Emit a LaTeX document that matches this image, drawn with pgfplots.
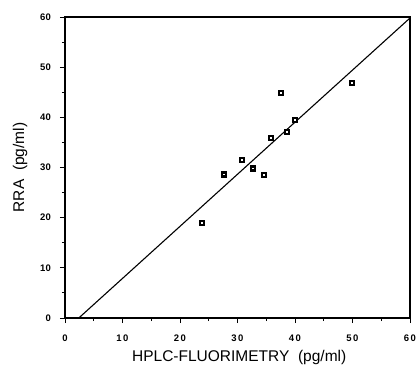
\documentclass[border=0pt]{standalone}
\usepackage{pgfplots}
\pgfplotsset{compat=1.18}
\usepackage{fontspec}
\setmainfont{Liberation Sans}
\begin{document}
\begin{tikzpicture}
\begin{axis}[
  name=ax,
  scale only axis, width=345pt, height=301pt,
  xmin=0, xmax=60, ymin=0, ymax=60,
  xtick={0,10,...,60}, ytick={0,10,...,60},
  minor tick num=1,
  tick align=outside, tick pos=left,
  major tick length=5pt, minor tick length=3pt,
  axis line style={line width=1.4pt},
  every tick/.style={black, line width=1pt},
  ticklabel style={font=\fontsize{9.5}{11}\selectfont\bfseries, inner sep=0pt},
  xticklabels={0,1\hspace{1.5pt}0,2\hspace{1.5pt}0,3\hspace{1.5pt}0,4\hspace{1.5pt}0,5\hspace{1.5pt}0,6\hspace{1.5pt}0},
  xticklabel style={anchor=center, yshift=-15pt},
  yticklabel style={anchor=east, xshift=-9pt},
  /pgf/number format/assume math mode=true,
  xlabel={HPLC-FLUORIMETRY\ \ (pg/ml)},
  ylabel={RRA\ \ (pg/ml)},
  label style={font=\fontsize{15.5}{17}\selectfont},
  xlabel style={at={(axis description cs:0.505,-0.1296)}, anchor=center},
  ylabel style={at={(axis description cs:-0.1304,0.5)}, anchor=center},
  clip=true,
]
\addplot[black, line width=1.1pt] coordinates {(2.4,0) (60,59.8)};
\addplot[only marks, mark=square*, mark size=2pt,
  mark options={draw=black, fill=white, line width=2.1pt}] coordinates {
  (23.9,18.9) (27.7,28.6) (30.8,31.5) (32.7,29.8) (34.6,28.5)
  (35.8,35.8) (37.6,44.8) (38.6,37.1) (40.0,39.4) (49.9,46.9)
};
\end{axis}
\path[use as bounding box] (ax.south west) ++(-65pt,-55pt) rectangle ++(417pt,373pt);
\end{tikzpicture}
\end{document}
